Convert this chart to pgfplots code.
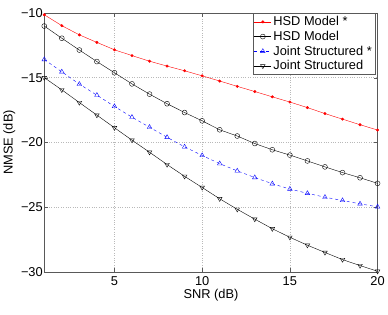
\documentclass[border=0pt]{standalone}
\usepackage{pgfplots}
\pgfplotsset{compat=1.18}
\usepackage{fontspec}
\setmainfont{Liberation Sans}
\begin{document}
\begin{tikzpicture}
\begin{axis}[
  name=ax,
  width=338pt, height=263pt, scale only axis,
  xmin=1, xmax=20, ymin=-30, ymax=-10,
  xtick={5,10,15,20}, ytick={-30,-25,-20,-15,-10},
  yticklabels={−30,−25,−20,−15,−10},
  tick align=inside, major tick length=4pt,
  axis line style={gray!70!black},
  tick style={gray!70!black},
  grid=major, grid style={dotted, gray!55},
  xlabel={SNR (dB)}, ylabel={NMSE (dB)},
  xlabel style={yshift=3pt}, ylabel style={yshift=-1pt},
  every tick label/.append style={font=\fontsize{13}{15}\selectfont},
  xticklabel style={yshift=-1pt},
  yticklabel style={xshift=2pt},
  label style={font=\fontsize{13}{15}\selectfont},
  /pgf/number format/assume math mode=true,
  legend style={at={(0.992,0.998)}, anchor=north east, draw=gray!70!black,
    font=\fontsize{13}{15}\selectfont, inner sep=1pt, row sep=0pt,
    cells={anchor=west}},
  legend image post style={xscale=1.0},
]
\addplot[red, mark=*, mark size=1.3pt] coordinates {
(1,-10.15)(2,-10.99)(3,-11.70)(4,-12.28)(5,-12.85)(6,-13.30)(7,-13.73)(8,-14.11)(9,-14.47)(10,-14.86)
(11,-15.26)(12,-15.67)(13,-16.07)(14,-16.48)(15,-16.88)(16,-17.31)(17,-17.77)(18,-18.20)(19,-18.63)(20,-19.04)};
\addlegendentry{HSD Model *}
\addplot[black, mark=o, mark size=2.5pt] coordinates {
(1,-11.02)(2,-11.96)(3,-12.87)(4,-13.76)(5,-14.62)(6,-15.48)(7,-16.27)(8,-17.01)(9,-17.69)(10,-18.33)
(11,-19.02)(12,-19.50)(13,-20.08)(14,-20.56)(15,-20.97)(16,-21.42)(17,-21.88)(18,-22.32)(19,-22.72)(20,-23.15)};
\addlegendentry{HSD Model}
\addplot[blue, dashed, mark=triangle, mark size=2.7pt, mark options={solid}] coordinates {
(1,-13.60)(2,-14.55)(3,-15.50)(4,-16.35)(5,-17.22)(6,-18.05)(7,-18.82)(8,-19.60)(9,-20.34)(10,-21.00)
(11,-21.63)(12,-22.19)(13,-22.70)(14,-23.18)(15,-23.59)(16,-23.92)(17,-24.22)(18,-24.47)(19,-24.73)(20,-24.96)};
\addlegendentry{Joint Structured *}
\addplot[black, mark=triangle, mark size=2.7pt, mark options={rotate=180}] coordinates {
(1,-15.00)(2,-15.94)(3,-16.92)(4,-17.89)(5,-18.86)(6,-19.82)(7,-20.75)(8,-21.70)(9,-22.61)(10,-23.47)
(11,-24.34)(12,-25.15)(13,-25.91)(14,-26.65)(15,-27.31)(16,-27.92)(17,-28.48)(18,-29.03)(19,-29.49)(20,-29.93)};
\addlegendentry{Joint Structured}
\end{axis}
\path (ax.south west) ++(-43pt,-43pt);
\path (ax.north east) ++(7pt,13pt);
\end{tikzpicture}
\end{document}
